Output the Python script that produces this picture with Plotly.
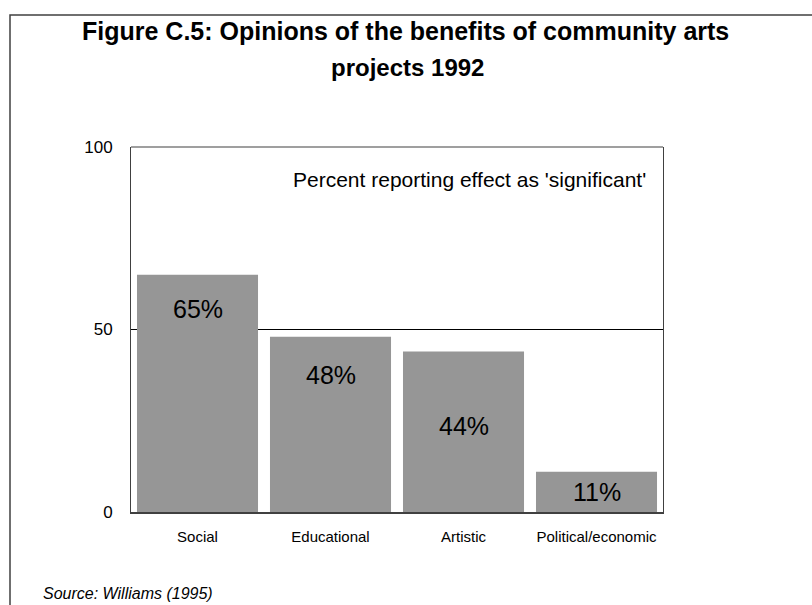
import plotly.graph_objects as go

categories = ["Social", "Educational", "Artistic", "Political/economic"]
values = [65, 48, 44, 11]
value_labels = ["65%", "48%", "44%", "11%"]
label_y = [55.5, 37.5, 23.5, 5.5]

W, H = 812, 605
L, R, T, B = 131, 663, 147, 512


def px(x):
    return (x - L) / (R - L)


def py(y):
    return (B - y) / (B - T)


FONT = "Liberation Sans, Arial, sans-serif"

fig = go.Figure()
fig.add_trace(go.Bar(
    x=categories, y=values,
    marker=dict(color="#969696", line=dict(width=0)),
    hoverinfo="skip",
))

annotations = []
for c, lab, ly in zip(categories, value_labels, label_y):
    annotations.append(dict(x=c, y=ly, xref="x", yref="y", text=lab, showarrow=False,
                            xanchor="center", yanchor="middle",
                            font=dict(family=FONT, size=25, color="#000000")))

annotations += [
    dict(x=px(405), y=py(31), xref="paper", yref="paper",
         xanchor="center", yanchor="middle",
         text="<b>Figure C.5: Opinions of the benefits of community arts</b>",
         showarrow=False, font=dict(family=FONT, size=25, color="#000000")),
    dict(x=px(407), y=py(67), xref="paper", yref="paper",
         xanchor="center", yanchor="middle",
         text="<b>projects 1992</b>",
         showarrow=False, font=dict(family=FONT, size=24, color="#000000")),
    dict(x=px(648), y=py(179), xref="paper", yref="paper",
         xanchor="right", yanchor="middle",
         text="Percent reporting effect as 'significant'",
         showarrow=False, font=dict(family=FONT, size=21, color="#000000")),
    dict(x=px(41), y=py(593), xref="paper", yref="paper",
         xanchor="left", yanchor="middle",
         text="<i>Source: Williams (1995)</i>",
         showarrow=False, font=dict(family=FONT, size=16, color="#000000")),
]

shapes = [
    dict(type="rect", xref="paper", yref="paper",
         x0=px(10), x1=px(830), y0=py(630), y1=py(15),
         line=dict(color="#404040", width=1.5), layer="below"),
    dict(type="line", xref="paper", yref="paper",
         x0=0, x1=1, y0=1, y1=1,
         line=dict(color="#404040", width=1.2)),
]

fig.update_layout(
    width=W, height=H,
    margin=dict(l=L, r=W - R, t=T, b=H - B, pad=0),
    paper_bgcolor="white", plot_bgcolor="white",
    showlegend=False,
    bargap=0.09,
    annotations=annotations,
    shapes=shapes,
    font=dict(family=FONT, color="#000000"),
    xaxis=dict(
        showline=True, linecolor="#404040", linewidth=2,
        ticks="", showgrid=False,
        tickfont=dict(family=FONT, size=15, color="#000000"),
        ticklabelstandoff=10,
        fixedrange=True,
    ),
    yaxis=dict(
        range=[0, 100], tickvals=[0, 50, 100],
        showline=True, mirror=True, linecolor="#404040", linewidth=1,
        showgrid=True, gridcolor="#000000", gridwidth=1,
        zeroline=False, ticks="",
        tickfont=dict(family=FONT, size=17, color="#000000"),
        ticklabelstandoff=14,
        fixedrange=True,
    ),
)

fig.write_html("out.html", config={"displayModeBar": False})
